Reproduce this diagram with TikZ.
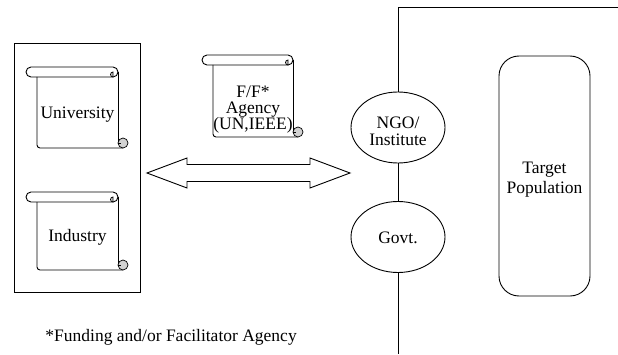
\documentclass[tikz,border=0pt]{standalone}
\usepackage{fontspec}
\setmainfont{Liberation Serif}
\usetikzlibrary{shapes.geometric}
\tikzset{
  every path/.style={line width=0.9pt},
  txt/.style={align=center, inner sep=0pt, font=\fontsize{17.5}{16}\selectfont},
  ell/.style={draw, ellipse, minimum width=94pt, minimum height=71pt, inner sep=0pt},
  curl/.style={draw, fill=gray!35, line width=0.7pt},
}
% scroll: L R T B  (L body left, R body right, T top of roll, B bottom)
\newcommand{\myscroll}[4]{%
  \draw ({#2-5},#3) -- ({#1-6},#3) arc[start angle=90,end angle=270,radius=5]
        -- ({#2-5},{#3-10}) arc[start angle=-90,end angle=90,radius=5] -- cycle;
  \draw[curl] ({#2-5},{#3-5}) arc[start angle=90,end angle=270,radius=2.5] -- ({#2-5},{#3-5}) -- cycle;
  \draw ({#1},{#3-10}) -- ({#1},{#4+3}) arc[start angle=180,end angle=270,radius=3] -- ({#2+5},#4);
  \draw (#2,{#3-5}) -- (#2,{#4+5});
  \draw[curl] ({#2+5},{#4+5}) circle[radius=5];
  \draw[line width=0.7pt] (#2,{#4+5}) -- ({#2+3},{#4+5});
}
\begin{document}
\begin{tikzpicture}[x=1pt,y=1pt]
\useasboundingbox (0,0) rectangle (618,354);

% left box
\node[draw, minimum width=126pt, minimum height=249pt, inner sep=0pt] (leftbox) at (77,186.5) {};

% scrolls
\myscroll{37}{118}{287}{206}
\node[txt] (univ) at (77.5,239) {University};
\myscroll{37}{118}{162}{84}
\node[txt] (ind) at (77.5,117) {Industry};
\myscroll{213}{293}{299}{217}
\node[txt] (ff) at (253,244) {F/F*\\Agency\\(UN,IEEE)};

% right side
\node[ell] (ngo) at (398,226.5) {};
\node[txt, font=\fontsize{17.5}{17}\selectfont] (ngotxt) at (398,222.5) {NGO/\\Institute};
\node[ell] (govt) at (398,117) {};
\node[txt] (govttxt) at (398,116) {Govt.};
\coordinate (corner) at (398,347);
\coordinate (redge) at (618,347);
\coordinate (bend) at (398,0);
\draw (redge) -- (corner) -- (ngo.north);
\draw (ngo.south) -- (govt.north);
\draw (govt.south) -- (bend);

\node[draw, rounded corners=20pt, minimum width=91pt, minimum height=240pt, inner sep=0pt] (target) at (544.5,178) {};
\node[txt, font=\fontsize{17.5}{20}\selectfont] (targettxt) at (544.5,174) {Target\\Population};

% double arrow
\draw (147,181) -- (187,196) -- (187,189.5) -- (310,189.5) -- (310,196) -- (350,181)
      -- (310,166) -- (310,172.5) -- (187,172.5) -- (187,166) -- cycle;

% footnote
\node[txt, anchor=west] (note) at (45,17) {*Funding and/or Facilitator Agency};
\end{tikzpicture}
\end{document}
